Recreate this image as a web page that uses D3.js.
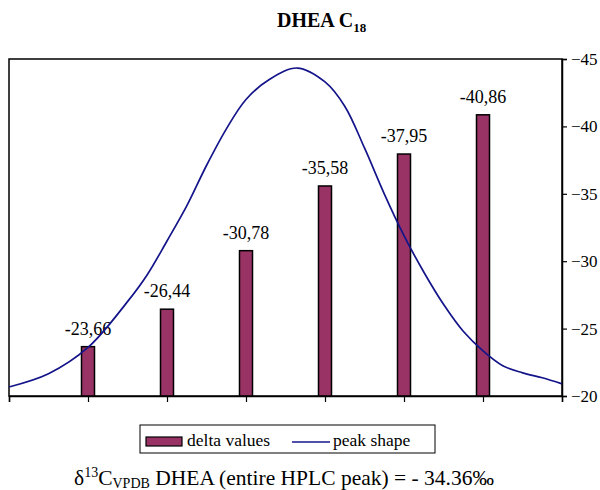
<!DOCTYPE html>
<html lang="en">
<head>
<meta charset="UTF-8">
<title>DHEA C18</title>
<script src="https://d3js.org/d3.v7.min.js"></script>
<style>
  body { margin: 0; background: #fff; }
  text { font-family: "Liberation Serif", "Times New Roman", serif; fill: #000; }
</style>
</head>
<body>
<svg id="chart" width="600" height="490"></svg>
<script>
// bar values (delta values) at positions 1..6
const positions = [1, 2, 3, 4, 5, 6]
const deltas = [-23.66, -26.44, -30.78, -35.58, -37.95, -40.86]
const deltaLabels = ["-23,66", "-26,44", "-30,78", "-35,58", "-37,95", "-40,86"]

// peak shape
const peakX = [0, 0.5, 1.0, 1.5, 1.75, 2.0, 2.25, 2.5, 2.75, 3.0, 3.3, 3.65, 4.0, 4.25, 4.5, 4.75,
  5.0, 5.25, 5.5, 5.75, 6.0, 6.25, 6.5, 6.75, 7.0]
const peakY = [-20.67, -21.65, -23.6, -27.0, -29.0, -31.5, -34.1, -37.1, -39.8, -42.0, -43.5, -44.33,
  -43.3, -41.5, -38.4, -35.0, -31.9, -29.2, -26.8, -24.8, -23.35, -22.25, -21.72, -21.35, -20.9]

const yTicks = [-45, -40, -35, -30, -25, -20]

const svg = d3.select('#chart')
const plotL = 9, plotR = 562, plotT = 59, plotB = 396

const x = d3.scaleLinear().domain([0, 7]).range([plotL, plotR])
const y = d3.scaleLinear().domain([-20, -45]).range([plotB, plotT])

// title
const title = svg.append('text')
  .attr('x', 277).attr('y', 27)
  .style('font-weight', 'bold').style('font-size', '20px')
title.append('tspan').text('DHEA C')
title.append('tspan').text('18').style('font-size', '13px').attr('dy', 5)

// plot frame
svg.append('rect')
  .attr('x', plotL).attr('y', plotT)
  .attr('width', plotR - plotL).attr('height', plotB - plotT)
  .attr('fill', 'none').attr('stroke', '#000').attr('stroke-width', 1.5)

// bars
const barW = 13
svg.selectAll('.bar')
  .data(deltas)
  .join('rect')
  .attr('class', 'bar')
  .attr('x', (d, i) => x(positions[i]) - barW / 2)
  .attr('y', d => y(d))
  .attr('width', barW)
  .attr('height', d => y(-20) - y(d))
  .attr('fill', '#993366')
  .attr('stroke', '#000')
  .attr('stroke-width', 1.5)

svg.selectAll('.lbl')
  .data(deltas)
  .join('text')
  .attr('class', 'lbl')
  .attr('x', (d, i) => x(positions[i]))
  .attr('y', d => y(d) - 12)
  .attr('text-anchor', 'middle')
  .style('font-size', '18px')
  .text((d, i) => deltaLabels[i])

// peak shape
const line = d3.line()
  .x(d => x(d[0]))
  .y(d => y(d[1]))
  .curve(d3.curveCatmullRom)

svg.append('path')
  .attr('d', line(peakX.map((v, i) => [v, peakY[i]])))
  .attr('fill', 'none')
  .attr('stroke', '#14148a')
  .attr('stroke-width', 1.7)

// bottom axis
const xAxis = d3.axisBottom(x).tickValues(d3.range(0, 8)).tickSize(6).tickFormat('')
svg.append('g')
  .attr('transform', `translate(0,${plotB})`)
  .call(xAxis)
  .call(g => g.select('.domain').attr('stroke-width', 1.5))
  .call(g => g.selectAll('.tick line').attr('stroke-width', 1.2))

// right axis
const yAxis = d3.axisRight(y).tickValues(yTicks).tickSize(5).tickPadding(4).tickFormat(d3.format('d'))
svg.append('g')
  .attr('transform', `translate(${plotR},0)`)
  .call(yAxis)
  .call(g => g.select('.domain').attr('stroke-width', 1.5))
  .call(g => g.selectAll('.tick line').attr('stroke-width', 1.2))
  .call(g => g.selectAll('.tick text')
    .style('font-family', '"Liberation Serif", serif')
    .style('font-size', '17px')
    .attr('fill', '#000'))

// legend
const lg = svg.append('g')
lg.append('rect')
  .attr('x', 140).attr('y', 425).attr('width', 295).attr('height', 28)
  .attr('fill', '#fff').attr('stroke', '#000').attr('stroke-width', 1)
lg.append('rect')
  .attr('x', 146).attr('y', 437).attr('width', 36).attr('height', 9)
  .attr('fill', '#993366').attr('stroke', '#000').attr('stroke-width', 1.2)
lg.append('text').attr('x', 187).attr('y', 446).style('font-size', '17.5px').text('delta values')
lg.append('line')
  .attr('x1', 292).attr('x2', 330).attr('y1', 442).attr('y2', 442)
  .attr('stroke', '#14148a').attr('stroke-width', 1.7)
lg.append('text').attr('x', 333).attr('y', 446).style('font-size', '17.5px').text('peak shape')

// caption
const cap = svg.append('text')
  .attr('x', 74).attr('y', 485)
  .style('font-size', '21.5px')
cap.append('tspan').text('δ')
cap.append('tspan').text('13').style('font-size', '14px').attr('dy', -8)
cap.append('tspan').text('C').attr('dy', 8)
cap.append('tspan').text('VPDB').style('font-size', '14px').attr('dy', 3)
cap.append('tspan').text(' DHEA (entire HPLC peak) = - 34.36‰').attr('dy', -3)
</script>
</body>
</html>
